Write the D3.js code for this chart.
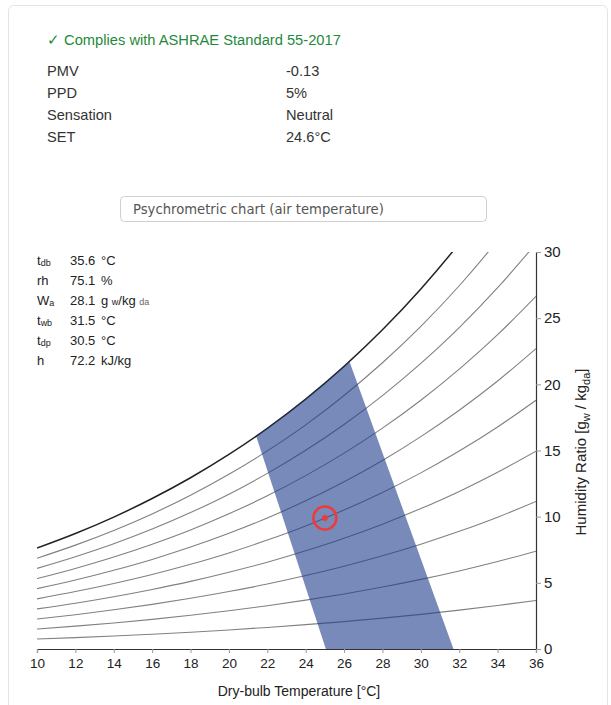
<!DOCTYPE html>
<html>
<head>
<meta charset="utf-8">
<script src="https://cdn.jsdelivr.net/npm/d3@7"></script>
<style>
  body { margin: 0; background: #fff; }
  svg { display: block; font-family: "Liberation Sans", Arial, sans-serif; }
</style>
</head>
<body>
<div class="canvas"></div>
<script>
// ---- data ----
const summaryLabels = ['PMV', 'PPD', 'Sensation', 'SET'];
const summaryValues = ['-0.13', '5%', 'Neutral', '24.6°C'];

const infoMain = ['t', 'rh', 'W', 't', 't', 'h'];
const infoSub = ['db', '', 'a', 'wb', 'dp', ''];
const infoValues = ['35.6', '75.1', '28.1', '31.5', '30.5', '72.2'];
const infoUnits = ['°C', '%', 'g/kg', '°C', '°C', 'kJ/kg'];

// dry bulb temps (°C) where the rh curves were read
const dbTemps = [10, 12, 14, 16, 18, 20, 22, 24, 26, 28, 30, 32, 34, 36];
// humidity ratio g/kg for each relative humidity line
const rh10 = [0.75, 0.86, 0.98, 1.12, 1.27, 1.44, 1.63, 1.84, 2.07, 2.33, 2.62, 2.94, 3.29, 3.67];
const rh20 = [1.51, 1.73, 1.97, 2.24, 2.55, 2.89, 3.27, 3.69, 4.16, 4.68, 5.26, 5.90, 6.61, 7.39];
const rh30 = [2.27, 2.59, 2.96, 3.37, 3.83, 4.34, 4.91, 5.55, 6.26, 7.05, 7.92, 8.89, 9.96, 11.15];
const rh40 = [3.03, 3.46, 3.95, 4.50, 5.11, 5.80, 6.56, 7.42, 8.37, 9.43, 10.61, 11.91, 13.36, 14.95];
const rh50 = [3.79, 4.34, 4.95, 5.63, 6.40, 7.26, 8.23, 9.30, 10.50, 11.83, 13.31, 14.96, 16.78, 18.80];
const rh60 = [4.56, 5.21, 5.95, 6.77, 7.70, 8.74, 9.90, 11.20, 12.64, 14.25, 16.05, 18.04, 20.25, 22.70];
const rh70 = [5.32, 6.09, 6.95, 7.92, 9.00, 10.22, 11.58, 13.10, 14.80, 16.69, 18.80, 21.15, 23.75, 26.65];
const rh80 = [6.09, 6.97, 7.95, 9.06, 10.31, 11.70, 13.27, 15.02, 16.97, 19.15, 21.58, 24.28, 27.30, 30.64];
const rh90 = [6.86, 7.85, 8.96, 10.21, 11.62, 13.20, 14.97, 16.94, 19.16, 21.63, 24.38, 27.45, 30.88, 34.69];
const rh100 = [7.63, 8.73, 9.97, 11.37, 12.94, 14.70, 16.67, 18.88, 21.36, 24.12, 27.21, 30.65, 34.50, 38.78];
const rhLines = [rh10, rh20, rh30, rh40, rh50, rh60, rh70, rh80, rh90];

// comfort zone outline (temp, humidity ratio)
const zoneT = [25.05, 21.42, 22, 23, 24, 25, 26, 26.28, 31.7];
const zoneW = [0, 16.08, 16.67, 17.73, 18.88, 20.08, 21.36, 21.72, 0];

// current condition
const pointT = 25.0;
const pointW = 9.9;

const xTicks = [10, 12, 14, 16, 18, 20, 22, 24, 26, 28, 30, 32, 34, 36];
const yTicks = [0, 5, 10, 15, 20, 25, 30];

// ---- svg ----
const svg = d3.select('.canvas')
    .append('svg')
    .attr('width', 611)
    .attr('height', 705);

// card outline
svg.append('rect')
    .attr('x', 8.5).attr('y', 5.5)
    .attr('width', 599).attr('height', 760)
    .attr('rx', 5)
    .attr('fill', '#fff')
    .attr('stroke', '#e4e4e4');

// compliance header
svg.append('text')
    .attr('x', 47).attr('y', 45)
    .attr('fill', '#1f8a3b')
    .attr('font-size', 14.7)
    .text('✓ Complies with ASHRAE Standard 55-2017');

const summary = svg.append('g');
summaryLabels.forEach((lab, i) => {
    summary.append('text')
        .attr('x', 47).attr('y', 76 + i * 22)
        .attr('font-size', 14.6).attr('fill', '#333')
        .text(lab);
    summary.append('text')
        .attr('x', 286).attr('y', 76 + i * 22)
        .attr('font-size', 14.6).attr('fill', '#333')
        .text(summaryValues[i]);
});

// the select box
svg.append('rect')
    .attr('x', 120.5).attr('y', 196.5)
    .attr('width', 366).attr('height', 25)
    .attr('rx', 4)
    .attr('fill', '#fff')
    .attr('stroke', '#cfcfcf');
svg.append('text')
    .attr('x', 133).attr('y', 213.5)
    .attr('font-family', '"DejaVu Sans", Verdana, sans-serif')
    .attr('font-size', 13.2)
    .attr('fill', '#555')
    .text('Psychrometric chart (air temperature)');

// Margins and Dimensions
const margin = { top: 252, left: 37 };
const graphWidth = 499;
const graphHeight = 397;

const graph = svg.append('g')
    .attr('transform', `translate(${margin.left}, ${margin.top})`);

const xScale = d3.scaleLinear().domain([10, 36]).range([0, graphWidth]);
const yScale = d3.scaleLinear().domain([0, 30]).range([graphHeight, 0]);

graph.append('clipPath').attr('id', 'plotclip')
    .append('rect')
    .attr('width', graphWidth).attr('height', graphHeight);

const plot = graph.append('g').attr('clip-path', 'url(#plotclip)');

const line = d3.line()
    .x((d, i) => xScale(dbTemps[i]))
    .y(d => yScale(d))
    .curve(d3.curveMonotoneX);

// rh lines 10..90%
plot.selectAll('path.rh')
    .data(rhLines)
    .enter()
    .append('path')
    .attr('class', 'rh')
    .attr('d', d => line(d))
    .attr('fill', 'none')
    .attr('stroke', '#808080')
    .attr('stroke-width', 1.1);

// saturation line
plot.append('path')
    .attr('d', line(rh100))
    .attr('fill', 'none')
    .attr('stroke', '#222')
    .attr('stroke-width', 1.5);

// comfort zone on top, semi transparent so lines show through
const zoneLine = d3.line()
    .x((d, i) => xScale(zoneT[i]))
    .y(d => yScale(d));
plot.append('path')
    .attr('d', zoneLine(zoneW) + 'Z')
    .attr('fill', 'rgb(30,60,140)')
    .attr('fill-opacity', 0.6);

// current point
graph.append('circle')
    .attr('cx', xScale(pointT)).attr('cy', yScale(pointW))
    .attr('r', 11.5)
    .attr('fill', 'none')
    .attr('stroke', '#f03a3a')
    .attr('stroke-width', 2.5);
graph.append('circle')
    .attr('cx', xScale(pointT)).attr('cy', yScale(pointW))
    .attr('r', 3)
    .attr('fill', '#f03a3a');

// Axes
const xAxis = d3.axisBottom(xScale)
    .tickValues(xTicks)
    .tickSize(4)
    .tickPadding(5)
    .tickFormat(d3.format('d'));
const yAxis = d3.axisRight(yScale)
    .tickValues(yTicks)
    .tickSize(5)
    .tickPadding(3);

const xAxisGroup = graph.append('g')
    .attr('transform', `translate(0, ${graphHeight})`)
    .call(xAxis);
const yAxisGroup = graph.append('g')
    .attr('transform', `translate(${graphWidth}, 0)`)
    .call(yAxis);

[xAxisGroup, yAxisGroup].forEach(g => {
    g.select('.domain').attr('stroke', '#333').attr('stroke-width', 1.2);
    g.selectAll('.tick line').attr('stroke', '#999');
    g.selectAll('text')
        .attr('font-family', '"Liberation Sans", Arial, sans-serif')
        .attr('fill', '#222');
});
xAxisGroup.selectAll('text').attr('font-size', 13.5);
yAxisGroup.selectAll('text').attr('font-size', 15);

// axis titles
svg.append('text')
    .attr('x', 299).attr('y', 696)
    .attr('text-anchor', 'middle')
    .attr('font-size', 14).attr('fill', '#222')
    .text('Dry-bulb Temperature [°C]');

const yTitle = svg.append('text')
    .attr('transform', 'translate(586, 452) rotate(-90)')
    .attr('text-anchor', 'middle')
    .attr('font-size', 15).attr('fill', '#222');
yTitle.append('tspan').text('Humidity Ratio [g');
yTitle.append('tspan').attr('font-size', 11).attr('dy', 4).text('w');
yTitle.append('tspan').attr('dy', -4).text(' / kg');
yTitle.append('tspan').attr('font-size', 11).attr('dy', 4).text('da');
yTitle.append('tspan').attr('dy', -4).text(']');

// hover info box, top left of chart
const info = svg.append('g').attr('font-size', 13).attr('fill', '#222');
infoMain.forEach((m, i) => {
    const y = 265 + i * 20;
    const lab = info.append('text').attr('x', 37).attr('y', y);
    lab.append('tspan').text(m);
    if (infoSub[i]) lab.append('tspan').attr('font-size', 9).attr('dy', 1).text(infoSub[i]);
    info.append('text').attr('x', 70).attr('y', y).text(infoValues[i]);
    const u = info.append('text').attr('x', 101).attr('y', y);
    if (infoUnits[i] === 'g/kg') {
        u.append('tspan').text('g ');
        u.append('tspan').attr('font-size', 9).text('w');
        u.append('tspan').text('/kg ');
        u.append('tspan').attr('font-size', 9).attr('fill', '#666').text('da');
    } else {
        u.text(infoUnits[i]);
    }
});
</script>
</body>
</html>
